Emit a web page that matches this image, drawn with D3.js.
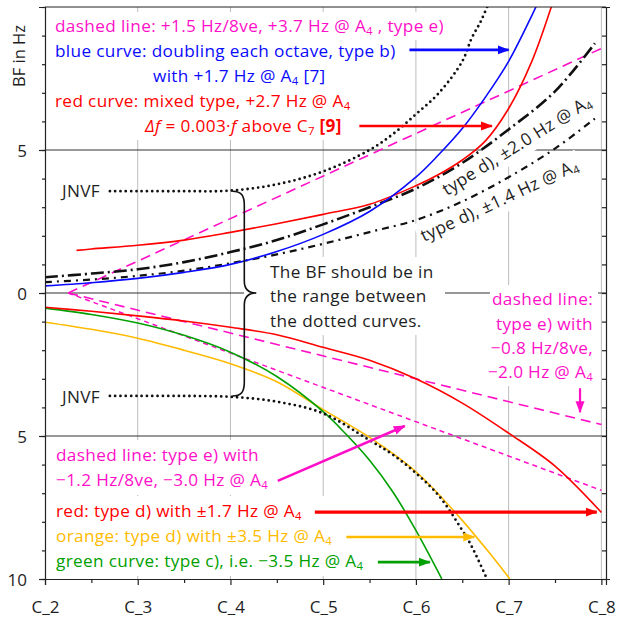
<!DOCTYPE html>
<html>
<head>
<meta charset="utf-8">
<script src="https://cdn.jsdelivr.net/npm/d3@7/dist/d3.min.js"></script>
<style>
  body { margin: 0; background: #fff; }
  svg { font-family: "Open Sans", sans-serif; }
</style>
</head>
<body>
<div id="wrapper"></div>
<script>

// 1. Data  (x in octaves: C_2 = 2 ... C_8 = 8, A_4 = 4.75; y = BF in Hz)

const octaveTicks = [2, 3, 4, 5, 6, 7, 8]
const octaveLabels = ["C_2", "C_3", "C_4", "C_5", "C_6", "C_7", "C_8"]
const halfOctaveTicks = [2.5, 3.5, 4.5, 5.5, 6.5, 7.5]
const bfTicks = [5, 0, -5, -10]
const bfMinorTicks = d3.range(-10, 11)

const jnvfUpper = [[2.7, 3.56], [3, 3.56], [3.5, 3.56], [4, 3.58], [4.5, 3.8], [5, 4.25], [5.5, 5.0],
  [5.75, 5.55], [6, 6.25], [6.25, 7.0], [6.5, 8.1], [6.6, 8.9], [6.7, 9.5], [6.78, 10.1]]
const jnvfLower = [[2.7, -3.6], [3, -3.6], [3.5, -3.6], [4, -3.63], [4.5, -3.8], [5, -4.21], [5.5, -5.15],
  [5.75, -5.65], [6, -6.3], [6.25, -7.1], [6.5, -8.3], [6.6, -8.85], [6.78, -10.1]]
const blueCurve = [[2, 0.25], [2.5, 0.36], [3, 0.51], [3.5, 0.72], [4, 1.0], [4.5, 1.45], [5, 2.05],
  [5.5, 2.85], [6, 4.05], [6.25, 4.85], [6.5, 5.75], [6.75, 6.85], [7, 8.1], [7.25, 9.7], [7.35, 10.4]]
const redUpper = [[2.34, 1.49], [2.5, 1.54], [3, 1.67], [3.5, 1.85], [4, 2.12], [4.5, 2.42], [5, 2.75],
  [5.5, 3.1], [6, 3.75], [6.25, 4.15], [6.5, 4.65], [6.75, 5.32], [7, 6.45], [7.25, 8.1], [7.45, 9.9], [7.5, 10.4]]
const dashDot20 = [[2, 0.55], [2.5, 0.68], [3, 0.83], [3.5, 1.08], [4, 1.43], [4.5, 1.85], [5, 2.4],
  [5.5, 3.0], [6, 3.65], [6.5, 4.55], [7, 5.72], [7.5, 7.05], [7.93, 8.73]]
const dashDot14 = [[2, 0.38], [2.5, 0.47], [3, 0.6], [3.5, 0.78], [4, 1.04], [4.5, 1.35], [5, 1.72],
  [5.5, 2.13], [6, 2.55], [6.5, 3.2], [7, 4.05], [7.5, 5.05], [7.93, 6.1]]
const redLower = [[2, -0.5], [2.5, -0.64], [3, -0.8], [3.5, -0.98], [4, -1.2], [4.5, -1.46], [5, -1.9],
  [5.5, -2.35], [6, -3.0], [6.5, -3.85], [7, -4.9], [7.5, -6.05], [8, -7.67]]
const orangeCurve = [[2, -1.02], [2.5, -1.27], [3, -1.58], [3.5, -2.0], [4, -2.47], [4.5, -3.1], [5, -4.08],
  [5.5, -5.05], [6, -6.25], [6.5, -7.95], [7, -9.95], [7.03, -10.1]]
const greenCurve = [[2, -0.53], [2.5, -0.75], [3, -1.05], [3.5, -1.48], [4, -2.07], [4.5, -2.92], [5, -4.15],
  [5.25, -4.95], [5.5, -5.85], [5.75, -6.95], [6, -8.3], [6.28, -10.0]]
const dashedUpper = [[2.25, 0], [8, 8.55]]
const dashedLower08 = [[2.25, 0], [8, -4.6]]
const dashedLower12 = [[2.25, 0], [8, -6.9]]

// 2. Dimensions

let dimensions = {
  width: 619,
  height: 618,
  margin: { top: 7, right: 13, bottom: 39, left: 45 },
}
dimensions.boundedWidth = dimensions.width - dimensions.margin.left - dimensions.margin.right
dimensions.boundedHeight = dimensions.height - dimensions.margin.top - dimensions.margin.bottom

const colors = {
  magenta: "#ff10c8",
  blue: "#0a0aff",
  red: "#ff0000",
  orange: "#ffbb00",
  green: "#00a000",
  text: "#1e1e1e",
}

// 3. Canvas

const wrapper = d3.select("#wrapper")
  .append("svg")
    .attr("width", dimensions.width)
    .attr("height", dimensions.height)

const bounds = wrapper.append("g")
    .attr("transform", `translate(${dimensions.margin.left}, ${dimensions.margin.top})`)

const defs = wrapper.append("defs")
defs.append("clipPath").attr("id", "plot-clip")
  .append("rect")
    .attr("width", dimensions.boundedWidth)
    .attr("height", dimensions.boundedHeight)

Object.entries(colors).forEach(([name, color]) => {
  defs.append("marker")
      .attr("id", `arrow-${name}`)
      .attr("markerUnits", "userSpaceOnUse")
      .attr("viewBox", "0 0 12 10")
      .attr("refX", 11)
      .attr("refY", 5)
      .attr("markerWidth", 12)
      .attr("markerHeight", 10)
      .attr("orient", "auto")
    .append("path")
      .attr("d", "M0,0.5 L12,5 L0,9.5 Z")
      .attr("fill", color)
})

// 4. Scales

const xScale = d3.scaleLinear()
  .domain([2, 8.05])
  .range([0, dimensions.boundedWidth])

const yScale = d3.scaleLinear()
  .domain([-10, 10])
  .range([dimensions.boundedHeight, 0])

// 5. Layers

const gridLayer = bounds.append("g")
const bgLayer = bounds.append("g")
const curveLayer = bounds.append("g").attr("clip-path", "url(#plot-clip)")
const annoLayer = bounds.append("g")
const axisLayer = bounds.append("g")
const textLayer = bounds.append("g")

// gridlines
gridLayer.selectAll(".v-grid")
    .data(octaveTicks.slice(1))
  .enter().append("line")
    .attr("x1", d => xScale(d))
    .attr("x2", d => xScale(d))
    .attr("y1", 0)
    .attr("y2", dimensions.boundedHeight)
    .attr("stroke", "#bdbdbd")
    .attr("stroke-width", 1)

gridLayer.selectAll(".h-grid")
    .data([5, 0, -5])
  .enter().append("line")
    .attr("x1", 0)
    .attr("x2", dimensions.boundedWidth)
    .attr("y1", d => yScale(d))
    .attr("y2", d => yScale(d))
    .attr("stroke", "#333")
    .attr("stroke-width", 1.2)

// curves
const lineGenerator = d3.line()
  .x(d => xScale(d[0]))
  .y(d => yScale(d[1]))
  .curve(d3.curveCatmullRom.alpha(0.5))

const curves = [
  { data: dashedUpper, color: colors.magenta, width: 1.6, dash: "10,6" },
  { data: dashedLower08, color: colors.magenta, width: 1.6, dash: "10,6" },
  { data: dashedLower12, color: colors.magenta, width: 1.5, dash: "5,4" },
  { data: orangeCurve, color: colors.orange, width: 1.6 },
  { data: greenCurve, color: colors.green, width: 1.6 },
  { data: redLower, color: colors.red, width: 1.6 },
  { data: dashDot14, color: "#111", width: 2.2, dash: "7,5,2,5" },
  { data: dashDot20, color: "#111", width: 2.6, dash: "13,4,2,4" },
  { data: redUpper, color: colors.red, width: 1.6 },
  { data: blueCurve, color: colors.blue, width: 1.6 },
  { data: jnvfUpper, color: "#111", width: 2.8, dash: "0,5.3", cap: "round" },
  { data: jnvfLower, color: "#111", width: 2.8, dash: "0,5.3", cap: "round" },
]

curveLayer.selectAll(".curve")
    .data(curves)
  .enter().append("path")
    .attr("class", "curve")
    .attr("d", d => lineGenerator(d.data))
    .attr("fill", "none")
    .attr("stroke", d => d.color)
    .attr("stroke-width", d => d.width)
    .attr("stroke-dasharray", d => d.dash || null)
    .attr("stroke-linecap", d => d.cap || "butt")

// 6. Peripherals

// arrows (in data units)
const arrows = [
  { from: [5.93, 8.5], to: [7.0, 8.5], color: "blue", width: 2.6 },
  { from: [5.39, 5.84], to: [6.82, 5.84], color: "red", width: 2.6 },
  { from: [4.51, -6.57], to: [5.88, -4.65], color: "magenta", width: 2.6 },
  { from: [7.77, -3.33], to: [7.77, -4.17], color: "magenta", width: 2.2 },
  { from: [4.91, -7.66], to: [7.95, -7.66], color: "red", width: 3.2 },
  { from: [5.25, -8.53], to: [6.63, -8.53], color: "orange", width: 2.6 },
  { from: [5.59, -9.41], to: [6.15, -9.41], color: "green", width: 2.6 },
]
annoLayer.selectAll(".arrow")
    .data(arrows)
  .enter().append("line")
    .attr("x1", d => xScale(d.from[0]))
    .attr("y1", d => yScale(d.from[1]))
    .attr("x2", d => xScale(d.to[0]))
    .attr("y2", d => yScale(d.to[1]))
    .attr("stroke", d => colors[d.color])
    .attr("stroke-width", d => d.width)
    .attr("marker-end", d => `url(#arrow-${d.color})`)

// curly brace between the JNVF curves
const braceX = xScale(4.02)
const braceTop = yScale(3.56)
const braceBottom = yScale(-3.6)
const braceMid = yScale(0)
const bx1 = braceX + 12
const tip = braceX + 24
annoLayer.append("path")
    .attr("d", `M${braceX},${braceTop}
      C${braceX + 9},${braceTop} ${bx1},${braceTop + 4} ${bx1},${braceTop + 14}
      L${bx1},${braceMid - 12}
      C${bx1},${braceMid - 3} ${bx1 + 5},${braceMid} ${tip},${braceMid}
      C${bx1 + 5},${braceMid} ${bx1},${braceMid + 3} ${bx1},${braceMid + 12}
      L${bx1},${braceBottom - 14}
      C${bx1},${braceBottom - 4} ${braceX + 9},${braceBottom} ${braceX},${braceBottom}`)
    .attr("fill", "none")
    .attr("stroke", "#111")
    .attr("stroke-width", 1.6)

// axes and frame
const xAxisGenerator = d3.axisBottom(xScale)
  .tickValues(octaveTicks)
  .tickSize(6)
  .tickFormat((d, i) => octaveLabels[i])
const xAxis = axisLayer.append("g")
    .attr("transform", `translate(0, ${dimensions.boundedHeight})`)
    .call(xAxisGenerator)
axisLayer.append("g")
    .attr("transform", `translate(0, ${dimensions.boundedHeight})`)
    .call(d3.axisBottom(xScale).tickValues(halfOctaveTicks).tickSize(4).tickFormat(""))
    .call(g => g.select(".domain").remove())

const yAxisGenerator = d3.axisLeft(yScale)
  .tickValues(bfTicks)
  .tickSize(6)
  .tickPadding(12)
  .tickFormat(d => Math.abs(d))
const yAxis = axisLayer.append("g").call(yAxisGenerator)
axisLayer.append("g")
    .call(d3.axisLeft(yScale).tickValues(bfMinorTicks).tickSize(3).tickFormat(""))
    .call(g => g.select(".domain").remove())

axisLayer.append("g")
    .attr("transform", `translate(${dimensions.boundedWidth}, 0)`)
    .call(d3.axisLeft(yScale).tickValues(bfMinorTicks).tickSize(-4).tickFormat(""))
    .call(g => g.selectAll(".tick line").attr("x2", -4))

axisLayer.append("line")
    .attr("x1", 0)
    .attr("x2", dimensions.boundedWidth)
    .attr("stroke", "#222")

axisLayer.selectAll(".domain, .tick line").attr("stroke", "#222").attr("stroke-width", 1.2)
axisLayer.selectAll(".tick text")
    .attr("fill", colors.text)
    .style("font-size", "17px")
    .style("font-family", "'Open Sans', sans-serif")
xAxis.selectAll(".tick text").attr("dy", "1.45em")
yAxis.selectAll(".tick text").attr("dy", "0.36em")

textLayer.append("text")
    .attr("transform", `translate(${25 - dimensions.margin.left}, ${56 - dimensions.margin.top}) rotate(-90)`)
    .attr("text-anchor", "middle")
    .attr("fill", colors.text)
    .style("font-size", "16.5px")
    .text("BF in Hz")

// text labels; {x} = subscript, <i>..</i> italic, <b>..</b> bold
const fontSize = 17.2
const subShift = 3
function addLine(parent, x, y, markup, color, anchor) {
  const t = parent.append("text")
      .attr("x", x - dimensions.margin.left)
      .attr("y", y - dimensions.margin.top)
      .attr("fill", color)
      .attr("text-anchor", anchor || "start")
      .style("font-size", `${fontSize}px`)
      .style("letter-spacing", "0.35px")
  let shift = 0
  markup.split(/(\{[^}]*\}|<i>.*?<\/i>|<b>.*?<\/b>)/).filter(s => s).forEach(s => {
    const span = t.append("tspan")
    if (s.startsWith("{")) {
      span.text(s.slice(1, -1)).attr("dy", subShift + shift).style("font-size", "66%")
      shift = -subShift
      return
    }
    if (shift) span.attr("dy", shift)
    shift = 0
    if (s.startsWith("<i>")) span.text(s.slice(3, -4)).style("font-style", "italic")
    else if (s.startsWith("<b>")) span.text(s.slice(3, -4)).style("font-weight", "bold")
    else span.text(s)
  })
  return t
}

function addBackground(box, pad) {
  bgLayer.append("rect")
      .attr("x", box.x0 - pad)
      .attr("y", box.y0 - pad)
      .attr("width", box.x1 - box.x0 + 2 * pad)
      .attr("height", box.y1 - box.y0 + 2 * pad)
      .attr("fill", "#fff")
}

function boxOf(node) {
  const b = node.getBBox()
  return { x0: b.x, y0: b.y, x1: b.x + b.width, y1: b.y + b.height }
}

// block of lines; "left" extends each line box to a left edge, "right" to a right edge,
// "union" one box round all lines; edges are page pixels
function textBlock(lines, mode, edges) {
  const nodes = lines.map(l => addLine(textLayer, l[0], l[1], l[2], l[3], mode === "right" ? "end" : "start").node())
  const boxes = nodes.map(boxOf)
  const e = edges || {}
  if (mode === "union") {
    const box = {
      x0: d3.min(boxes, b => b.x0), y0: d3.min(boxes, b => b.y0),
      x1: d3.max(boxes, b => b.x1), y1: d3.max(boxes, b => b.y1),
    }
    if (e.left) box.x0 = e.left - dimensions.margin.left
    if (e.right) box.x1 = e.right - dimensions.margin.left
    addBackground(box, 3)
  } else {
    boxes.forEach(b => {
      if (mode === "left") b.x0 = e.left - dimensions.margin.left
      if (mode === "right") b.x1 = e.right - dimensions.margin.left
      addBackground(b, 2)
    })
  }
}

textBlock([
  [55, 32, "dashed line: +1.5 Hz/8ve, +3.7 Hz @ A{4} , type e)", colors.magenta],
  [55, 57, "blue curve: doubling each octave, type b)", colors.blue],
  [153, 82, "with +1.7 Hz @ A{4} [7]", colors.blue],
  [55, 107, "red curve: mixed type, +2.7 Hz @ A{4}", colors.red],
  [145, 132, "<i>Δf</i> = 0.003·<i>f</i>  above C{7} <b>[9]</b>", colors.red],
], "left", { left: 52 })

textBlock([[62, 197, "JNVF", colors.text]], "union")
textBlock([[62, 403, "JNVF", colors.text]], "union")

textBlock([
  [270, 278, "The BF should be in", colors.text],
  [270, 302, "the range between", colors.text],
  [270, 327, "the dotted curves.", colors.text],
], "union", { left: 247, right: 442 })

textBlock([
  [593, 305, "dashed line:", colors.magenta],
  [593, 330, "type e) with", colors.magenta],
  [593, 354, "−0.8 Hz/8ve,", colors.magenta],
  [593, 378, "−2.0 Hz @ A{4}", colors.magenta],
], "right", { right: 596 })

textBlock([
  [56, 461, "dashed line: type e) with", colors.magenta],
  [56, 486, "−1.2 Hz/8ve, −3.0 Hz @ A{4}", colors.magenta],
], "union")

textBlock([
  [56, 517, "red: type d) with ±1.7 Hz @ A{4}", colors.red],
  [56, 542, "orange: type d) with ±3.5 Hz @ A{4}", colors.orange],
  [56, 567, "green curve: type c), i.e. −3.5 Hz @ A{4}", colors.green],
], "union")

// rotated labels along the dash-dot curves
const rotated = [
  { x: 447, y: 196, angle: -32, text: "type d), ±2.0 Hz @ A{4}" },
  { x: 424, y: 242, angle: -25, text: "type d), ±1.4 Hz @ A{4}" },
]
rotated.forEach(r => {
  const g = textLayer.append("g")
      .attr("transform", `translate(${r.x - dimensions.margin.left}, ${r.y - dimensions.margin.top}) rotate(${r.angle})`)
  const t = addLine(g, dimensions.margin.left, dimensions.margin.top, r.text, colors.text)
  const b = boxOf(t.node())
  g.insert("rect", "text")
      .attr("x", b.x0 - 3).attr("y", b.y0 - 2)
      .attr("width", b.x1 - b.x0 + 6).attr("height", b.y1 - b.y0 + 4)
      .attr("fill", "#fff")
})

// rotated backgrounds sit in the text layer; lift curves and text above them
curveLayer.raise()
annoLayer.raise()
axisLayer.raise()
textLayer.selectAll("text").raise()

</script>
</body>
</html>
